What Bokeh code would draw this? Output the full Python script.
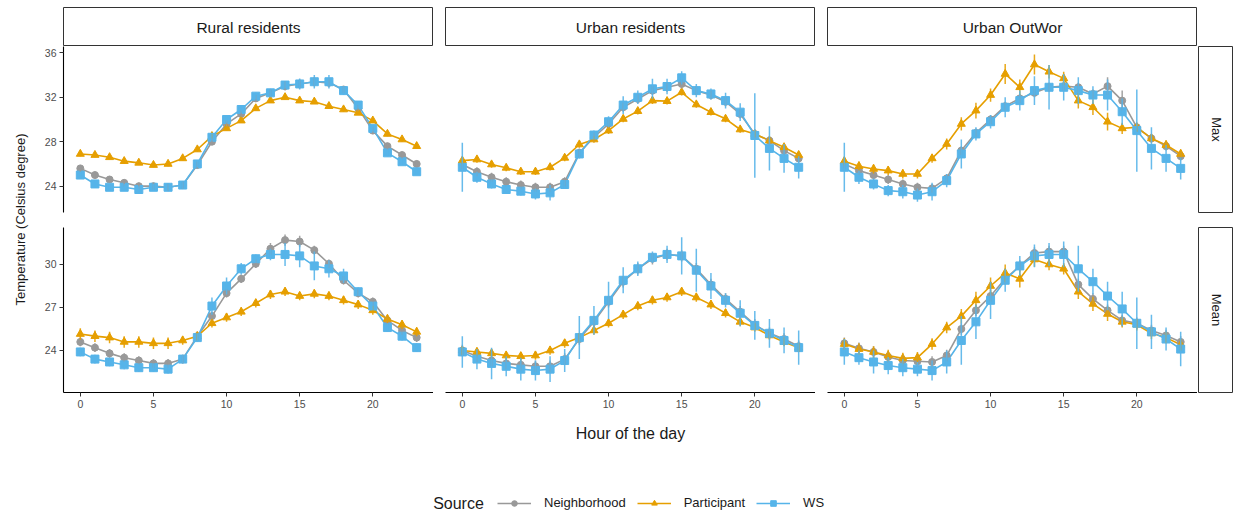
import math
import numpy as np
from bokeh.plotting import figure
from bokeh.models import Range1d, FixedTicker, ColumnDataSource, Label, Legend, LegendItem
from bokeh.layouts import row, column
from bokeh.embed import file_html
from bokeh.resources import INLINE

# ---------------- data ----------------
hours = list(range(24))
groups = ["Rural residents", "Urban residents", "Urban OutWor"]
stats = ["Max", "Mean"]
sources = ["Neighborhood", "Participant", "WS"]
x_ticks = [0, 5, 10, 15, 20]
y_ticks_max = [24, 28, 32, 36]
y_ticks_mean = [24, 27, 30]

rural_max_nb = [25.6, 25.0, 24.6, 24.3, 24.0, 24.0, 23.9, 24.1, 25.9, 28.0, 29.6, 30.5, 31.9, 32.4, 33.0, 33.2, 33.4, 33.3, 32.7, 31.0, 29.0, 27.6, 26.8, 26.0]
rural_max_pt = [26.9, 26.8, 26.6, 26.25, 26.1, 25.9, 26.0, 26.5, 27.3, 28.5, 29.2, 29.9, 31.0, 31.7, 32.0, 31.7, 31.6, 31.2, 30.9, 30.6, 29.9, 28.7, 28.2, 27.6]
rural_max_ws = [25.0, 24.2, 23.9, 23.9, 23.7, 23.9, 23.9, 24.1, 26.0, 28.4, 30.0, 30.9, 32.1, 32.4, 33.1, 33.2, 33.4, 33.4, 32.6, 31.3, 29.2, 27.0, 26.2, 25.3]
rural_max_nb_e = [0.3, 0.3, 0.3, 0.3, 0.3, 0.3, 0.3, 0.3, 0.3, 0.3, 0.3, 0.3, 0.3, 0.3, 0.4, 0.4, 0.4, 0.4, 0.3, 0.3, 0.3, 0.3, 0.3, 0.3]
rural_max_pt_e = [0.2, 0.2, 0.2, 0.2, 0.2, 0.2, 0.2, 0.2, 0.2, 0.2, 0.2, 0.2, 0.2, 0.2, 0.2, 0.2, 0.2, 0.2, 0.2, 0.2, 0.2, 0.2, 0.2, 0.2]
rural_max_ws_e = [0.3, 0.3, 0.3, 0.3, 0.3, 0.3, 0.3, 0.3, 0.3, 0.3, 0.3, 0.3, 0.3, 0.3, 0.3, 0.5, 0.6, 0.6, 0.4, 0.3, 0.3, 0.3, 0.3, 0.3]

rural_mean_nb = [24.6, 24.2, 23.8, 23.5, 23.3, 23.1, 23.1, 23.4, 25.0, 26.4, 28.0, 29.0, 30.05, 31.1, 31.7, 31.6, 31.0, 30.05, 28.9, 28.0, 27.4, 26.1, 25.4, 24.9]
rural_mean_pt = [25.15, 25.0, 24.9, 24.6, 24.6, 24.5, 24.5, 24.7, 25.0, 25.9, 26.3, 26.7, 27.3, 27.9, 28.1, 27.8, 27.95, 27.8, 27.5, 27.2, 26.8, 26.2, 25.8, 25.3]
rural_mean_ws = [23.9, 23.4, 23.2, 23.0, 22.8, 22.8, 22.7, 23.4, 24.9, 27.1, 28.5, 29.7, 30.4, 30.7, 30.7, 30.6, 29.9, 29.7, 29.2, 28.1, 27.1, 25.6, 25.0, 24.2]
rural_mean_nb_e = [0.3, 0.3, 0.3, 0.3, 0.3, 0.3, 0.3, 0.3, 0.3, 0.3, 0.3, 0.3, 0.3, 0.4, 0.4, 0.4, 0.3, 0.3, 0.3, 0.3, 0.3, 0.3, 0.3, 0.3]
rural_mean_pt_e = [0.4, 0.4, 0.4, 0.4, 0.4, 0.4, 0.4, 0.3, 0.3, 0.3, 0.3, 0.3, 0.3, 0.3, 0.3, 0.3, 0.3, 0.3, 0.3, 0.3, 0.3, 0.3, 0.3, 0.3]
rural_mean_ws_e = [0.3, 0.3, 0.3, 0.3, 0.3, 0.3, 0.3, 0.3, 0.3, 0.6, 0.6, 0.4, 0.3, 0.4, 0.8, 0.8, 1.0, 0.6, 0.5, 0.3, 0.3, 0.3, 0.3, 0.3]

urban_max_nb = [25.95, 25.3, 24.8, 24.4, 24.1, 23.9, 23.9, 24.4, 27.0, 28.4, 29.6, 31.1, 31.85, 32.6, 32.9, 33.2, 32.6, 32.2, 31.6, 30.5, 28.7, 28.1, 27.2, 26.5]
urban_max_pt = [26.3, 26.4, 25.95, 25.65, 25.3, 25.3, 25.7, 26.55, 27.75, 28.2, 29.0, 30.05, 30.75, 31.7, 31.65, 32.45, 31.35, 30.66, 30.06, 29.1, 28.7, 28.1, 27.5, 26.8]
urban_max_ws = [25.7, 24.8, 24.2, 23.7, 23.55, 23.3, 23.4, 24.15, 26.9, 28.6, 29.8, 31.3, 32.0, 32.76, 32.97, 33.75, 32.6, 32.3, 31.7, 30.66, 28.56, 27.4, 26.5, 25.7]
urban_max_nb_e = [0.4, 0.4, 0.4, 0.4, 0.4, 0.4, 0.4, 0.4, 0.4, 0.4, 0.4, 0.4, 0.4, 0.4, 0.4, 0.4, 0.4, 0.4, 0.4, 0.4, 0.4, 0.4, 0.4, 0.4]
urban_max_pt_e = [0.3, 0.3, 0.3, 0.3, 0.3, 0.3, 0.3, 0.3, 0.3, 0.3, 0.3, 0.3, 0.3, 0.3, 0.3, 0.3, 0.3, 0.3, 0.3, 0.3, 0.3, 0.3, 0.3, 0.3]
urban_max_ws_e = [2.2, 0.5, 0.4, 0.4, 0.4, 0.5, 0.7, 0.4, 0.4, 0.4, 0.5, 0.8, 0.6, 0.9, 0.7, 0.6, 0.6, 0.5, 0.7, 0.8, 3.8, 2.0, 1.3, 1.0]

urban_mean_nb = [24.0, 23.6, 23.3, 23.1, 23.0, 22.9, 22.9, 23.4, 24.8, 26.0, 27.4, 28.8, 29.7, 30.4, 30.7, 30.6, 29.7, 28.6, 27.6, 26.7, 25.8, 25.2, 24.8, 24.3]
urban_mean_pt = [24.0, 23.9, 23.8, 23.65, 23.6, 23.65, 24.0, 24.5, 24.9, 25.4, 25.9, 26.5, 27.1, 27.5, 27.7, 28.1, 27.7, 27.2, 26.6, 26.0, 25.6, 25.05, 24.6, 24.2]
urban_mean_ws = [23.9, 23.4, 23.1, 22.9, 22.7, 22.6, 22.7, 23.3, 24.9, 26.1, 27.5, 28.9, 29.7, 30.5, 30.7, 30.6, 29.6, 28.5, 27.5, 26.6, 25.75, 25.2, 24.7, 24.2]
urban_mean_nb_e = [0.4, 0.4, 0.4, 0.4, 0.4, 0.4, 0.4, 0.4, 0.4, 0.4, 0.4, 0.4, 0.4, 0.4, 0.4, 0.4, 0.4, 0.4, 0.4, 0.4, 0.4, 0.4, 0.4, 0.4]
urban_mean_pt_e = [0.3, 0.3, 0.3, 0.3, 0.3, 0.3, 0.3, 0.3, 0.3, 0.3, 0.3, 0.3, 0.3, 0.3, 0.3, 0.3, 0.3, 0.3, 0.3, 0.3, 0.3, 0.3, 0.3, 0.3]
urban_mean_ws_e = [1.1, 0.7, 1.1, 0.7, 0.8, 0.7, 0.9, 0.8, 1.5, 1.0, 1.3, 0.9, 0.5, 0.4, 0.6, 1.3, 1.5, 0.9, 0.5, 0.9, 1.0, 1.0, 0.9, 1.2]

outwor_max_nb = [26.0, 25.4, 25.0, 24.6, 24.2, 23.9, 23.8, 24.7, 27.2, 28.8, 30.0, 31.2, 31.9, 32.4, 32.9, 33.0, 32.9, 32.3, 33.0, 31.7, 29.3, 28.3, 27.6, 26.7]
outwor_max_pt = [26.25, 25.8, 25.55, 25.4, 25.1, 25.1, 26.5, 27.8, 29.6, 30.8, 32.2, 34.1, 32.9, 34.95, 34.3, 33.7, 31.7, 31.1, 29.8, 29.2, 29.3, 28.3, 27.7, 26.9]
outwor_max_ws = [25.7, 24.8, 24.2, 23.6, 23.5, 23.2, 23.5, 24.5, 26.9, 28.7, 29.8, 31.1, 31.7, 32.6, 32.9, 32.9, 32.6, 32.2, 32.2, 30.7, 29.0, 27.4, 26.5, 25.6]
outwor_max_nb_e = [0.4, 0.4, 0.4, 0.4, 0.4, 0.4, 0.4, 0.4, 0.4, 0.4, 0.4, 0.4, 0.4, 0.4, 0.4, 0.4, 0.4, 0.4, 0.8, 0.9, 0.4, 0.4, 0.4, 0.4]
outwor_max_pt_e = [0.4, 0.4, 0.4, 0.4, 0.4, 0.4, 0.4, 0.5, 0.6, 0.7, 0.6, 0.9, 0.7, 0.9, 0.6, 0.6, 0.7, 0.7, 0.8, 0.5, 0.4, 0.4, 0.4, 0.4]
outwor_max_ws_e = [2.2, 0.6, 0.5, 0.5, 0.6, 0.6, 0.8, 0.6, 1.3, 0.6, 0.6, 0.9, 0.9, 1.3, 2.0, 1.2, 1.2, 0.8, 1.4, 1.2, 3.7, 1.9, 1.2, 1.0]

outwor_mean_nb = [24.5, 24.15, 23.9, 23.55, 23.3, 23.25, 23.2, 23.65, 25.5, 26.8, 27.8, 29.0, 29.9, 30.8, 30.9, 30.9, 28.6, 27.6, 26.8, 26.1, 25.9, 25.4, 25.05, 24.6]
outwor_mean_pt = [24.45, 24.1, 23.9, 23.65, 23.45, 23.5, 24.45, 25.6, 26.4, 27.5, 28.5, 29.4, 29.0, 30.35, 30.0, 29.7, 28.1, 27.25, 26.55, 26.0, 25.8, 25.2, 24.9, 24.4]
outwor_mean_ws = [23.9, 23.5, 23.2, 22.95, 22.8, 22.7, 22.6, 23.2, 24.7, 26.0, 27.5, 28.9, 29.9, 30.6, 30.7, 30.7, 29.7, 28.8, 27.8, 26.9, 25.9, 25.3, 24.8, 24.1]
outwor_mean_nb_e = [0.4, 0.4, 0.4, 0.4, 0.4, 0.4, 0.4, 0.4, 0.4, 0.4, 0.4, 0.4, 0.4, 0.4, 0.4, 0.4, 0.4, 0.4, 0.4, 0.4, 0.4, 0.4, 0.4, 0.4]
outwor_mean_pt_e = [0.4, 0.4, 0.4, 0.4, 0.4, 0.4, 0.4, 0.4, 0.5, 0.6, 0.6, 0.6, 0.6, 0.5, 0.4, 0.4, 0.5, 0.5, 0.5, 0.4, 0.4, 0.4, 0.4, 0.4]
outwor_mean_ws_e = [0.9, 0.5, 0.8, 0.6, 0.6, 0.5, 0.7, 0.8, 1.7, 1.2, 1.3, 0.8, 0.7, 0.8, 0.8, 0.9, 1.6, 0.9, 1.0, 1.2, 1.8, 1.2, 0.8, 1.2]

panels = {
    ("Rural residents", "Max"): [(rural_max_nb, rural_max_nb_e), (rural_max_pt, rural_max_pt_e), (rural_max_ws, rural_max_ws_e)],
    ("Rural residents", "Mean"): [(rural_mean_nb, rural_mean_nb_e), (rural_mean_pt, rural_mean_pt_e), (rural_mean_ws, rural_mean_ws_e)],
    ("Urban residents", "Max"): [(urban_max_nb, urban_max_nb_e), (urban_max_pt, urban_max_pt_e), (urban_max_ws, urban_max_ws_e)],
    ("Urban residents", "Mean"): [(urban_mean_nb, urban_mean_nb_e), (urban_mean_pt, urban_mean_pt_e), (urban_mean_ws, urban_mean_ws_e)],
    ("Urban OutWor", "Max"): [(outwor_max_nb, outwor_max_nb_e), (outwor_max_pt, outwor_max_pt_e), (outwor_max_ws, outwor_max_ws_e)],
    ("Urban OutWor", "Mean"): [(outwor_mean_nb, outwor_mean_nb_e), (outwor_mean_pt, outwor_mean_pt_e), (outwor_mean_ws, outwor_mean_ws_e)],
}

# ---------------- style ----------------
FONT = "Liberation Sans"
COLORS = {"Neighborhood": "#999999", "Participant": "#E69F00", "WS": "#56B4E9"}
MARKERS = {"Neighborhood": "circle", "Participant": "triangle", "WS": "square"}
MSIZE = {"Neighborhood": 7, "Participant": 8, "WS": 8}
Y_RANGES = {"Max": (21.63, 36.57), "Mean": (21.07, 32.58)}
Y_TICKS = {"Max": y_ticks_max, "Mean": y_ticks_mean}
FRAME_W = 370
FRAME_H = {"Max": 166, "Mean": 165}
BOTTOM = {"Max": 15, "Mean": 30}
LEFT = [33, 12, 12]


def base_fig(width, height, xr, yr, left=0, right=0, top=0, bottom=0, xloc=None, yloc=None):
    p = figure(width=width, height=height, x_range=xr, y_range=yr,
               output_backend="svg", toolbar_location=None, title=None,
               x_axis_location=xloc, y_axis_location=yloc,
               min_border_left=left, min_border_right=right,
               min_border_top=top, min_border_bottom=bottom)
    p.grid.visible = False
    p.outline_line_color = None
    p.background_fill_color = "white"
    p.border_fill_color = "white"
    return p


def style_axis(ax):
    ax.axis_line_color = "black"
    ax.axis_line_width = 1.1
    ax.major_tick_line_color = "#333333"
    ax.major_tick_in = 0
    ax.major_tick_out = 4
    ax.minor_tick_line_color = None
    ax.major_label_text_color = "#4D4D4D"
    ax.major_label_text_font = FONT
    ax.major_label_text_font_size = "10.5px"
    ax.major_label_standoff = 3


def make_panel(ci, stat):
    group = groups[ci]
    left = LEFT[ci]
    fh = FRAME_H[stat]
    bottom = BOTTOM[stat]
    p = base_fig(left + FRAME_W, fh + bottom, Range1d(-1.15, 24.15), Range1d(*Y_RANGES[stat]),
                 left=left, bottom=bottom,
                 xloc="below" if stat == "Mean" else None,
                 yloc="left" if ci == 0 else None)
    if stat == "Mean":
        p.xaxis.ticker = FixedTicker(ticks=x_ticks)
        style_axis(p.xaxis[0])
    if ci == 0:
        p.yaxis.ticker = FixedTicker(ticks=Y_TICKS[stat])
        style_axis(p.yaxis[0])
    srcs = []
    for name, (vals, errs) in zip(sources, panels[(group, stat)]):
        srcs.append((name, ColumnDataSource(dict(
            x=hours, y=vals,
            lo=[v - e for v, e in zip(vals, errs)],
            hi=[v + e for v, e in zip(vals, errs)]))))
    for name, src in srcs:
        p.line("x", "y", source=src, line_color=COLORS[name], line_width=1.6)
    for name, src in srcs:
        p.scatter("x", "y", source=src, marker=MARKERS[name], size=MSIZE[name],
                  fill_color=COLORS[name], line_color=COLORS[name])
    for name, src in srcs:
        p.segment("x", "lo", "x", "hi", source=src, line_color=COLORS[name],
                  line_width=1.5, line_alpha=0.9)
    return p


def strip_top(ci):
    left = LEFT[ci]
    s = base_fig(left + FRAME_W, 46, Range1d(0, 1), Range1d(0, 1), left=left, top=7)
    s.outline_line_color = "#333333"
    s.outline_line_width = 1
    s.add_layout(Label(x=0.5, y=0.5, text=groups[ci], text_align="center",
                       text_baseline="middle", text_font=FONT, text_font_size="15.5px",
                       text_color="#1A1A1A"))
    return s


def strip_right(stat):
    fh = FRAME_H[stat]
    bottom = BOTTOM[stat]
    s = base_fig(1 + 35, fh + bottom, Range1d(0, 1), Range1d(0, 1), left=1, bottom=bottom)
    s.outline_line_color = "#333333"
    s.outline_line_width = 1
    s.add_layout(Label(x=0.5, y=0.5, text=stat, text_align="center",
                       text_baseline="middle", angle=-math.pi / 2,
                       text_font=FONT, text_font_size="13px", text_color="#1A1A1A"))
    return s


strips_row = row([strip_top(i) for i in range(3)])
max_row = row([make_panel(i, "Max") for i in range(3)] + [strip_right("Max")])
mean_row = row([make_panel(i, "Mean") for i in range(3)] + [strip_right("Mean")])
main_col = column(strips_row, max_row, mean_row)

UPPER_H = 46 + 166 + 15 + 165 + 30
ytitle = base_fig(30, UPPER_H, Range1d(0, 30), Range1d(UPPER_H, 0))
ytitle.add_layout(Label(x=20, y=219, text="Temperature (Celsius degree)", angle=math.pi / 2,
                        text_align="center", text_baseline="middle", text_font=FONT,
                        text_font_size="13px", text_color="#1A1A1A"))

FOOT_H = 518 - UPPER_H
footer = base_fig(1238, FOOT_H, Range1d(0, 1238), Range1d(518, UPPER_H))
footer.add_layout(Label(x=630, y=433, text="Hour of the day", text_align="center",
                        text_baseline="middle", text_font=FONT, text_font_size="16px",
                        text_color="#1A1A1A"))
footer.add_layout(Label(x=458, y=503, text="Source", text_align="center",
                        text_baseline="middle", text_font=FONT, text_font_size="16px",
                        text_color="#1A1A1A"))
items = []
for name in sources:
    # off-screen placeholder renderers: only used to draw the legend swatches
    lr = footer.line(x=np.array([np.nan]), y=np.array([np.nan]), line_color=COLORS[name], line_width=1.6)
    sr = footer.scatter(x=np.array([np.nan]), y=np.array([np.nan]), marker=MARKERS[name],
                        size=MSIZE[name] - 1, fill_color=COLORS[name], line_color=COLORS[name])
    items.append(LegendItem(label=name, renderers=[lr, sr]))
legend = Legend(items=items, orientation="horizontal", location=(497, 8),
                glyph_width=34, glyph_height=14, label_standoff=13, spacing=11,
                padding=0, margin=0, border_line_color=None, background_fill_alpha=0,
                label_text_font=FONT, label_text_font_size="13px", label_text_color="#1A1A1A",
                label_height=14)
footer.add_layout(legend)

layout = column(row(ytitle, main_col), footer)

open("out.html", "w").write(file_html(layout, INLINE))
